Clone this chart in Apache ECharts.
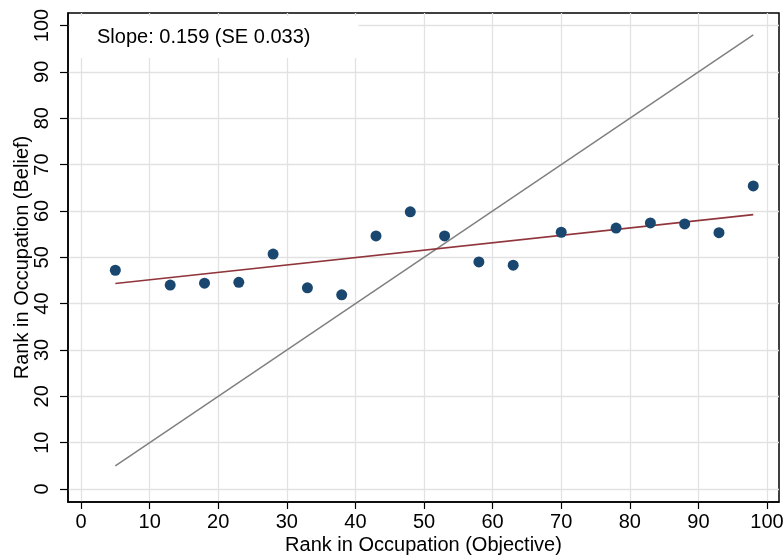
<!DOCTYPE html>
<html>
<head>
<meta charset="utf-8">
<script src="https://cdn.jsdelivr.net/npm/echarts@6/dist/echarts.min.js"></script>
<style>html,body{margin:0;padding:0;background:#fff;}#c{width:784px;height:559px;}</style>
</head>
<body>
<div id="c"></div>
<script>
// Data
const objectiveRank = [5, 13, 18, 23, 28, 33, 38, 43, 48, 53, 58, 63, 70, 78, 83, 88, 93, 98];
const beliefRank    = [47.2, 44.0, 44.4, 44.6, 50.7, 43.4, 41.9, 54.6, 59.8, 54.6, 49.0, 48.3, 55.4, 56.3, 57.4, 57.2, 55.3, 65.4];
const fitX = [5, 98];
const fitY = [44.35, 59.2];
const diagX = [5, 98];
const diagY = [5, 98];
const xTicks = [0, 10, 20, 30, 40, 50, 60, 70, 80, 90, 100];
const yTicks = [0, 10, 20, 30, 40, 50, 60, 70, 80, 90, 100];
const annotation = 'Slope: 0.159 (SE 0.033)';

const font = 'Liberation Sans, Arial, sans-serif';
const chart = echarts.init(document.getElementById('c'), null, {renderer: 'canvas'});
chart.setOption({
  animation: false,
  backgroundColor: '#fff',
  title: {
    text: annotation,
    left: 70, top: 16,
    padding: [11, 48, 11, 27],
    backgroundColor: '#fff',
    textStyle: {fontFamily: font, fontSize: 20, fontWeight: 'normal', color: '#000'}
  },
  grid: {
    left: 68, right: 5, top: 13, bottom: 57,
    containLabel: false, outerBoundsMode: 'none',
    show: true, borderColor: '#000', borderWidth: 1.5, backgroundColor: '#fff'
  },
  xAxis: {
    type: 'value', min: -1.9, max: 101.75,
    name: 'Rank in Occupation (Objective)', nameLocation: 'middle', nameGap: 33,
    nameMoveOverlap: false,
    nameTextStyle: {fontFamily: font, fontSize: 20, color: '#000'},
    axisLine: {show: true, onZero: false, lineStyle: {color: '#000', width: 1.5}},
    axisTick: {show: true, length: 7, customValues: xTicks, lineStyle: {color: '#000', width: 1.2}},
    axisLabel: {customValues: xTicks, margin: 10, fontFamily: font, fontSize: 20, color: '#000'},
    splitLine: {show: true, lineStyle: {color: '#e2e2e2', width: 1.3}}
  },
  yAxis: {
    type: 'value', min: -2.8, max: 102.7,
    name: 'Rank in Occupation (Belief)', nameLocation: 'middle', nameGap: 36,
    nameMoveOverlap: false,
    nameTextStyle: {fontFamily: font, fontSize: 20, color: '#000'},
    axisLine: {show: true, onZero: false, lineStyle: {color: '#000', width: 1.5}},
    axisTick: {show: true, length: 8, customValues: yTicks, lineStyle: {color: '#000', width: 1.2}},
    axisLabel: {customValues: yTicks, rotate: 90, margin: 16, fontFamily: font, fontSize: 20, color: '#000'},
    splitLine: {show: true, lineStyle: {color: '#e2e2e2', width: 1.3}}
  },
  series: [
    {
      type: 'line', data: diagX.map((x, i) => [x, diagY[i]]),
      symbol: 'none', lineStyle: {color: '#808080', width: 1.5}, z: 2
    },
    {
      type: 'line', data: fitX.map((x, i) => [x, fitY[i]]),
      symbol: 'none', lineStyle: {color: '#90353b', width: 1.6}, z: 3
    },
    {
      type: 'scatter', data: objectiveRank.map((x, i) => [x, beliefRank[i]]),
      symbol: 'circle', symbolSize: 11, itemStyle: {color: '#1a476f', opacity: 1}, z: 4
    }
  ]
});
</script>
</body>
</html>
